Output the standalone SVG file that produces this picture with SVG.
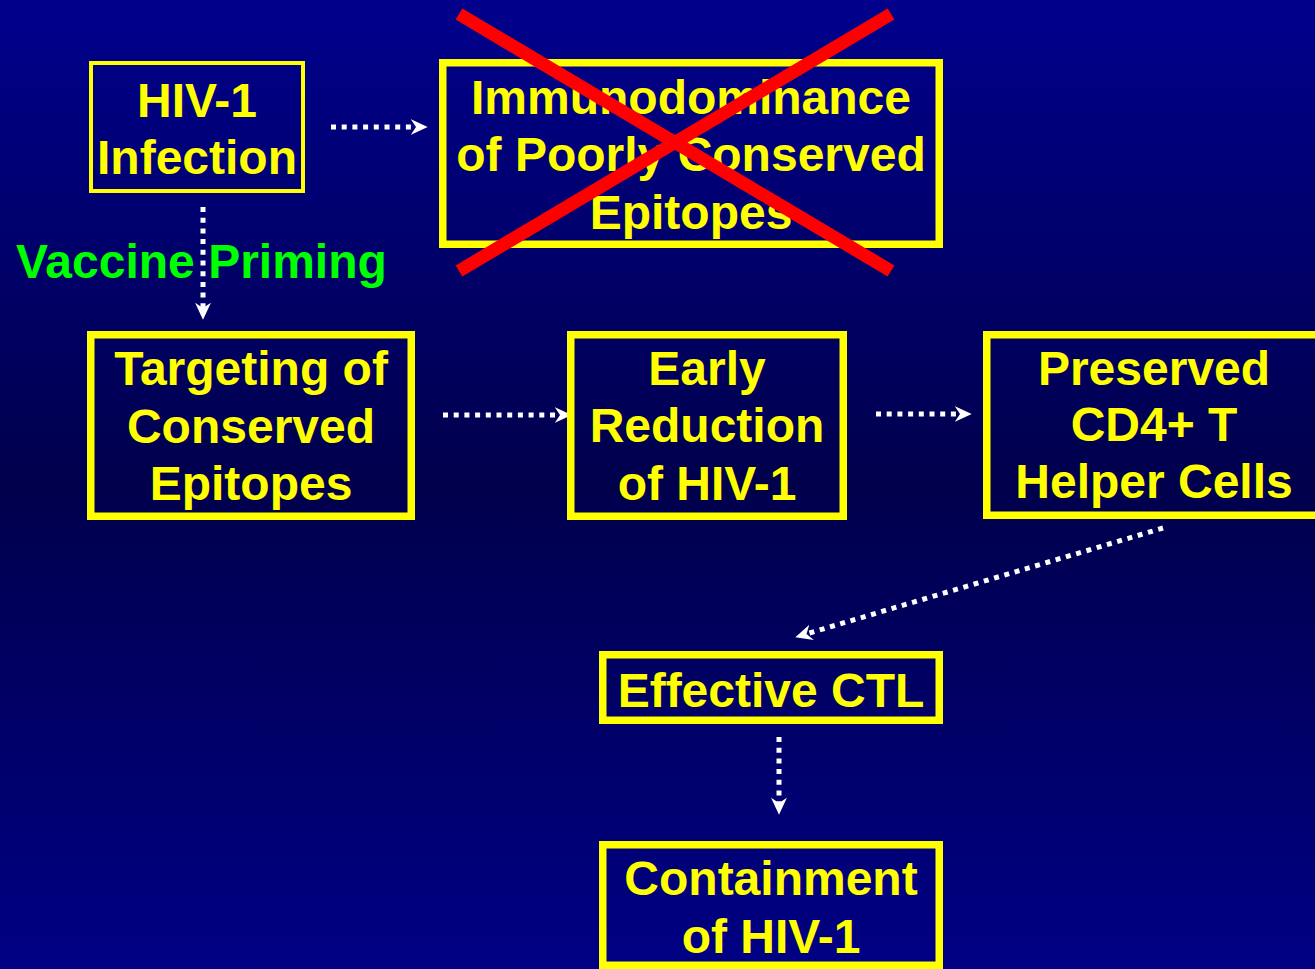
<svg xmlns="http://www.w3.org/2000/svg" width="1315" height="969" viewBox="0 0 1315 969">
<defs>
<linearGradient id="bg" x1="0" y1="0" x2="0" y2="1">
<stop offset="0" stop-color="#00008c"/>
<stop offset="0.5" stop-color="#00004c"/>
<stop offset="1" stop-color="#000084"/>
</linearGradient>
<marker id="ah" markerUnits="userSpaceOnUse" markerWidth="17" markerHeight="16" refX="5" refY="7.5" orient="auto" viewBox="0 0 16 15">
<path d="M0,0 L16,7.5 L0,15 L5,7.5 Z" fill="#ffffff"/>
</marker>
<style>
.box{fill:none;stroke:#ffff00;stroke-width:7.5}
.thin{stroke-width:4}
.t{font-family:"Liberation Sans",Arial,sans-serif;font-weight:bold;font-size:48px;fill:#ffff00;text-anchor:middle}
.g{font-family:"Liberation Sans",Arial,sans-serif;font-weight:bold;font-size:48px;fill:#00ff00}
.c{fill:none;stroke:#ffffff;stroke-width:5;stroke-dasharray:5 5.7;marker-end:url(#ah)}
.x{stroke:#ff0000;stroke-width:13}
</style>
</defs>
<rect x="0" y="0" width="1315" height="969" fill="url(#bg)"/>

<g id="connectors">
<line class="c" x1="331" y1="127" x2="416" y2="127"/>
<line class="c" x1="203" y1="207" x2="203" y2="308"/>
<line class="c" x1="443" y1="415" x2="560" y2="415"/>
<line class="c" x1="876" y1="414" x2="960" y2="414"/>
<line class="c" x1="1163" y1="528" x2="806.5" y2="633.9"/>
<line class="c" x1="779" y1="737" x2="779" y2="803"/>
</g>

<text class="g" x="16" y="278">Vaccine Priming</text>

<g id="hiv1-infection">
<rect class="box thin" x="91" y="63" width="212" height="128"/>
<text class="t" x="197" y="117">HIV-1</text>
<text class="t" x="197" y="174">Infection</text>
</g>

<g id="immunodominance">
<rect class="box" x="442.75" y="62.75" width="496.5" height="181.5"/>
<text class="t" x="691" y="114">Immunodominance</text>
<text class="t" x="691" y="171">of Poorly Conserved</text>
<text class="t" x="691" y="229">Epitopes</text>
<line class="x" x1="459" y1="14" x2="891" y2="271"/>
<line class="x" x1="891" y1="14" x2="459" y2="271"/>
</g>

<g id="targeting">
<rect class="box" x="90.75" y="334.75" width="320.5" height="181.5"/>
<text class="t" x="251" y="385">Targeting of</text>
<text class="t" x="251" y="443">Conserved</text>
<text class="t" x="251" y="500">Epitopes</text>
</g>

<g id="early-reduction">
<rect class="box" x="570.75" y="334.75" width="272.5" height="181.5"/>
<text class="t" x="707" y="385">Early</text>
<text class="t" x="707" y="442">Reduction</text>
<text class="t" x="707" y="500">of HIV-1</text>
</g>

<g id="preserved-cd4">
<rect class="box" x="986.75" y="334.75" width="334.5" height="180.5"/>
<text class="t" x="1154" y="385">Preserved</text>
<text class="t" x="1154" y="441">CD4+ T</text>
<text class="t" x="1154" y="498">Helper Cells</text>
</g>

<g id="effective-ctl">
<rect class="box" x="602.75" y="654.75" width="336.5" height="65.5"/>
<text class="t" x="771" y="707">Effective CTL</text>
</g>

<g id="containment">
<rect class="box" x="602.75" y="844.75" width="336.5" height="120.5"/>
<text class="t" x="771" y="895">Containment</text>
<text class="t" x="771" y="953">of HIV-1</text>
</g>
</svg>
